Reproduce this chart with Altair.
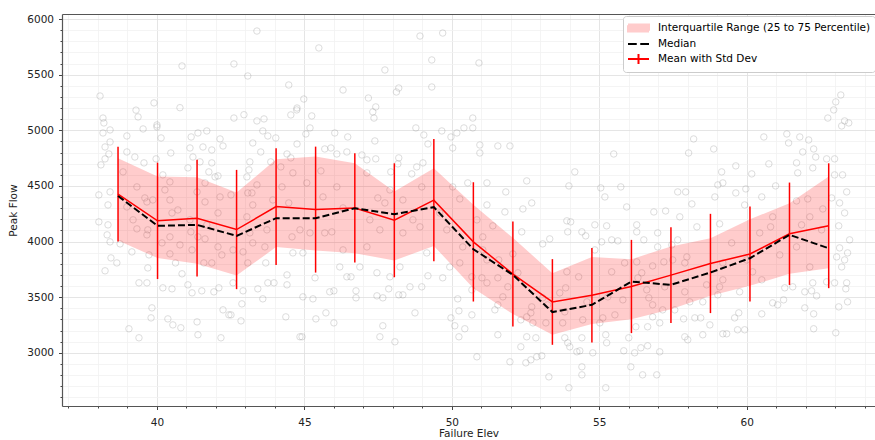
import altair as alt
import pandas as pd

# ---- binned statistics ----
bin_centers = [38.68, 40.02, 41.36, 42.70, 44.04, 45.38, 46.71, 48.05, 49.39, 50.73,
               52.07, 53.41, 54.75, 56.09, 57.43, 58.77, 60.11, 61.45, 62.78]
mean_flow = [4426, 4186, 4210, 4108, 4314, 4287, 4302, 4191, 4372, 3997,
             3708, 3457, 3517, 3596, 3698, 3803, 3888, 4070, 4142]
std_flow = [426, 523, 525, 536, 524, 566, 491, 512, 549, 536,
            472, 385, 424, 419, 431, 446, 427, 460, 561]
median_flow = [4410, 4141, 4150, 4051, 4210, 4210, 4299, 4246, 4309, 3931,
               3700, 3366, 3431, 3640, 3611, 3722, 3850, 4060, 3940]
q25_flow = [4010, 3851, 3800, 3694, 3950, 3919, 3895, 3829, 3961, 3580,
            3348, 3162, 3260, 3302, 3392, 3512, 3602, 3710, 3761]
q75_flow = [4749, 4584, 4578, 4440, 4739, 4764, 4703, 4449, 4659, 4330,
            4033, 3716, 3860, 3842, 3955, 4030, 4200, 4345, 4584]

# ---- raw scatter (Failure Elev, Peak Flow) ----
scatter_points = [
    (43.39,5892),(40.85,5578),(42.61,5596),(43.08,5488),(44.47,5407),(38.07,5308),(39.9,5246),(40.78,5203),
    (39.29,5181),(38.17,5110),(39.36,5120),(42.61,5110),(42.95,5140),(38.2,5066),(40.0,5048),(40.0,5030),
    (43.39,5084),(43.63,5102),(44.54,5138),(44.74,5183),(38.41,5003),(38.17,4976),(39.53,5012),(38.98,4949),
    (38.41,4895),(40.14,4931),(41.16,4940),(41.39,4976),(41.69,4994),(42.14,4922),(42.24,4859),(43.59,4994),
    (43.76,4949),(44.03,4931),(43.25,4886),(38.24,4850),(38.37,4787),(38.24,4743),(38.1,4689),(38.98,4805),
    (39.25,4760),(39.56,4707),(39.97,4743),(40.47,4796),(41.12,4841),(41.56,4850),(41.22,4760),(41.86,4823),
    (41.46,4716),(41.86,4707),(41.05,4662),(40.2,4599),(41.76,4626),(41.97,4581),(42.07,4590),(43.15,4716),
    (43.52,4805),(43.86,4716),(43.12,4644),(43.05,4581),(44.41,4787),(44.54,4752),(44.2,4671),(38.03,4419),
    (38.34,4329),(38.41,4446),(38.85,4626),(39.32,4491),(39.66,4356),(39.86,4374),(40.27,4464),(40.44,4536),
    (41.36,4446),(41.63,4527),(42.14,4401),(42.51,4419),(43.08,4437),(43.22,4437),(43.39,4509),(43.93,4374),
    (44.47,4347),
    (38.03,4177),(38.34,4150),(38.31,4060),(38.41,3997),(38.24,3737),(38.44,3853),(38.64,3808),(38.75,3979),
    (39.15,3907),(39.32,4114),(39.66,4060),(39.73,3880),(39.69,3763),(39.39,3629),(39.66,3629),(39.83,3404),
    (39.8,3314),(39.05,3216),(39.39,3135),(40.37,3305),(40.54,3251),(40.81,3225),(40.2,3584),(40.51,3575),
    (40.17,3988),(40.44,3889),(40.63,3808),(40.85,3710),(41.05,3611),(41.19,3539),(41.36,3278),(41.39,3162),
    (41.52,3557),(41.59,3808),(41.86,3808),(41.63,4024),(41.93,3548),(42.1,3584),(42.24,3386),(42.17,3135),
    (42.44,3341),(42.51,3341),(42.58,3629),(42.85,3287),(42.88,3440),(42.92,3557),(43.42,3575),(43.59,3485),
    (43.76,3629),(43.97,3629),(44.37,3323),(44.41,3700),(44.41,3611),(44.85,3144),(43.08,3808),(43.69,3808),
    (43.25,3988),(42.58,3925),(42.07,3952),(41.15,4087),
    (45.49,5740),(48.92,5847),(49.69,5874),(49.32,5632),(50.92,5605),(47.73,5542),(46.31,5362),(48.12,5344),
    (48.2,5380),(49.32,5389),(47.17,5290),(44.98,5281),(44.75,5200),(47.42,5210),(47.32,5165),(45.25,5129),
    (47.36,5110),(50.71,5110),(48.78,5021),(50.71,5021),(50.41,5021),(50.17,4976),(45.19,5021),(45.05,4967),
    (46.03,4976),(46.47,4940),(47.39,4904),(49.05,4958),(49.66,4994),(49.97,4940),(50.95,4868),(51.56,4859),
    (51.97,4859),(50.95,4796),(50.03,4841),(49.19,4877),(44.75,4877),(45.9,4841),(45.69,4832),(46.1,4787),
    (46.44,4805),(46.95,4778),(47.12,4734),(47.42,4743),(48.2,4752),(48.17,4698),(49.02,4707),(48.64,4608),
    (47.93,4626),(45.56,4635),(54.17,4626),(53.97,4500),(52.54,4545),(51.19,4527),(51.83,4446),(52.71,4347),
    (52.41,4293),(51.8,4266),(50.54,4527),(50.27,4383),
    (44.92,3144),(47.56,3144),(48.07,3099),(47.66,3243),(45.39,3305),(46.0,3269),(45.73,3359),(48.75,3359),
    (49.97,3314),(50.1,3243),(50.24,3144),(50.44,3216),(50.24,3377),(50.68,3341),(50.85,2964),(51.56,3162),
    (51.97,2919),(52.34,3054),(52.51,2910),(52.68,2937),(52.88,2964),(53.05,2973),(53.29,2784),(53.97,2686),
    (52.54,3144),(52.85,3135),(53.83,3135),(53.93,3090),(54.0,3054),(54.24,3009),(45.29,3485),(44.95,3503),
    (45.86,3548),(46.0,3557),(46.75,3557),(46.75,3494),(47.46,3512),(47.66,3494),(47.86,3575),(48.2,3521),
    (48.34,3521),(48.58,3593),(48.98,3593),(49.69,3674),(50.2,3485),(50.68,3566),(51.02,3674),(51.56,3674),
    (51.9,3593),(51.56,3431),(52.34,3296),(52.68,3359),(53.19,3269),(53.83,3368),(46.58,3683),(47.46,3719),
    (49.19,3692),(46.44,3683),(45.36,3674),
    (63.19,5317),(63.02,5255),(62.95,5183),(62.75,5110),(63.32,5084),(63.22,5039),(63.46,5066),(58.2,4922),
    (55.49,4787),(58.03,4796),(58.88,4832),(60.58,4940),(61.36,4967),(61.42,4886),(61.8,4940),(62.1,4913),
    (61.9,4805),(62.27,4832),(62.34,4760),(62.71,4743),(62.98,4743),(59.63,4680),(60.75,4698),(59.15,4626),
    (60.17,4608),(61.73,4617),(62.24,4662),(62.98,4599),(63.25,4599),(63.39,4446),(63.15,4347),(63.32,4257),
    (55.05,4482),(55.19,4401),(55.73,4491),(55.93,4311),(56.85,4266),(57.25,4275),(57.66,4446),(57.93,4446),
    (58.14,4338),(59.02,4509),(59.19,4527),(59.63,4437),(59.97,4473),(59.93,4329),(60.51,4401),(60.98,4500),
    (61.69,4365),(62.07,4383),(62.58,4293),(62.88,4392),
    (55.22,2686),(54.41,2802),(54.41,2874),(56.47,2802),(56.95,2802),(56.07,2874),(54.78,3000),(54.34,3018),
    (55.83,3018),(56.2,3000),(56.41,3045),(56.64,3063),(57.05,3009),(56.0,3135),(55.22,3162),(55.25,3090),
    (57.9,3144),(58.0,3117),(58.51,3162),(59.19,3171),(59.32,3171),(59.69,3207),(59.93,3207),(62.27,3216),
    (63.02,3180),(57.86,3305),(58.24,3314),(58.44,3314),(58.75,3251),(59.59,3314),(59.73,3359),(60.51,3350),
    (61.97,3404),(62.27,3350),(63.12,3413),(63.42,3458),(60.88,3449),(61.05,3431),(61.25,3476),(62.37,3512),
    (62.2,3557),(62.71,3638),(63.36,3575),(63.39,3629),(62.98,3629),(63.42,3898),(63.32,3835),(63.15,3943),
    (63.22,3772),(63.49,4015),(63.12,4141),(54.85,4150),(55.25,4141),(56.27,4150),(54.41,4087),(55.42,4015),
    (56.51,4015),(56.98,4078),(57.19,3817),(57.66,4015),(58.31,4132),(59.08,4159),(59.49,3988),(60.81,4132),
    (61.86,4150),(55.42,3728),(55.86,3808),(56.44,3719),(56.81,3431),(57.05,3269),(56.64,3234),(56.24,3234),
    (55.53,3341),(55.02,3269),(54.41,3135),(54.44,3296),(58.51,3458),(58.07,3458),(57.56,3386),(59.02,3521),
    (59.76,3548),(61.29,3584),(61.56,3593),(61.97,3548),(60.51,3656),(60.2,3728),(59.19,3656),(58.64,3611),
    (57.9,3548),(57.22,3593),(56.68,3494),(55.8,3476),
    (53.9,4186),(54.03,4177),(56.27,4087),(52.37,4087),(51.39,4141),(53.93,4087),(54.54,4051),(53.08,3979),
    (53.32,4024),(55.63,4006),(56.98,3952),(57.46,3970),(57.49,3835),(56.81,3781),(56.27,3817),(55.08,3997),
    (54.85,3925),(54.3,3683),(53.9,3728),(53.86,3584),(53.66,3539),(53.25,3431),(53.08,3494),(52.71,3413),
    (52.54,3323),(52.75,3269),(51.73,3503),(51.46,3386),(51.19,3629),(52.24,3719),(51.59,3835),(51.05,3925),
    (52.07,3889),(54.58,3458),(55.12,3314),(56.81,3323),(57.15,3386),(56.61,3566),(56.31,3674),(55.29,3503),
    (53.76,3269),(51.19,4329),
    (38.98,4311),(39.19,4195),(39.59,4392),(39.69,4105),(40.44,4374),(40.51,4257),(40.71,4284),(40.44,4042),
    (40.78,3970),(41.12,4195),(41.19,3925),(41.39,4042),(41.69,4150),(41.63,4356),(42.2,3880),(42.07,4257),
    (42.92,3907),(43.15,4078),(43.05,4222),(43.25,4329),(43.66,3952),(43.73,4105),(44.58,4042),(44.61,3898),
    (44.61,4617),(44.24,4491),
    (45.08,4527),(45.63,4401),(46.1,4491),(46.31,4302),(44.85,4105),(45.19,4078),(45.69,4078),(45.93,4087),
    (46.31,3925),(44.95,3898),(47.12,4617),(47.49,4392),(47.73,4347),(47.22,4195),(47.56,4105),(47.12,3952),
    (47.9,4464),(48.34,4374),(48.34,4078),(48.68,4195),(48.92,4132),(48.98,4491),(48.81,4671),(49.15,3898),
    (49.59,4257),(49.83,4105),(50.03,4491),(50.37,3952),(50.27,3808),(50.85,4195),(51.05,4042),(51.19,3835),
    (50.68,3683),(49.93,3772),(48.24,3772),(47.9,3683),(46.88,3772),(46.2,3772),
    (57.97,3862),(57.9,3808),(59.19,3808),(59.08,3593),(60.44,4078),(60.0,3835),(60.88,4222),(61.12,3880),
    (62.14,4222),(61.69,3952),(62.14,3772),(62.24,3629),(62.54,4105),(63.05,3862),(58.92,4401),(57.73,4222),
    (61.69,4707),
]

series_labels = ["Interquartile Range (25 to 75 Percentile)", "Median", "Mean with Std Dev"]
series_colors = ["#ffcccc", "#000000", "#ff0000"]
x_ticks = list(range(37, 65))
y_ticks = list(range(2600, 6001, 100))

# ---- tables ----
stats = pd.DataFrame({"elev": bin_centers, "mean": mean_flow, "std": std_flow,
                      "median": median_flow, "q25": q25_flow, "q75": q75_flow})
stats["lo"] = stats["mean"] - stats["std"]
stats["hi"] = stats["mean"] + stats["std"]
pts = pd.DataFrame(scatter_points, columns=["elev", "flow"])
legend_df = pd.DataFrame({"series": series_labels, "elev": [50.0] * 3, "flow": [0.0] * 3})

x_scale = alt.Scale(domain=[36.78, 64.35], nice=False, zero=False)
y_scale = alt.Scale(domain=[2522, 6045], nice=False, zero=False)

x_axis = alt.Axis(
    title="Failure Elev", orient="bottom", values=x_ticks, format="d",
    labelExpr="datum.value % 5 == 0 ? datum.label : ''",
    labelOverlap=False, labelFlush=False,
    domain=True, domainColor="#555555", domainWidth=1.2,
    tickSize={"condition": {"test": "datum.value % 5 == 0", "value": 3.5}, "value": 2},
    gridColor={"condition": {"test": "datum.value % 5 == 0", "value": "#dedede"}, "value": "#f1f1f1"},
    tickColor="#444444", labelPadding=8, titlePadding=0,
)
y_axis = alt.Axis(
    title="Peak Flow", values=y_ticks, format="d",
    labelExpr="datum.value % 500 == 0 ? datum.label : ''",
    labelOverlap=False, labelFlush=False,
    domain=True, domainColor="#555555", domainWidth=1.2,
    tickSize={"condition": {"test": "datum.value % 500 == 0", "value": 3.5}, "value": 2},
    gridColor={"condition": {"test": "datum.value % 500 == 0", "value": "#dedede"}, "value": "#f1f1f1"},
    tickColor="#444444", labelPadding=5, titlePadding=8,
)
top_axis = alt.Axis(orient="top", values=[], labels=False, ticks=False, grid=False,
                    domain=True, domainColor="#555555", domainWidth=1.2, title=None)

X_main = alt.X("elev:Q", scale=x_scale, axis=x_axis)
X_plain = alt.X("elev:Q", scale=x_scale, axis=None)

scatter = alt.Chart(pts).mark_point(
    shape="circle", filled=False, size=42, color="#808080", opacity=0.27, strokeWidth=1, clip=True
).encode(x=X_main, y=alt.Y("flow:Q", scale=y_scale, axis=y_axis))

band = alt.Chart(stats).mark_area(color="#ff0000", opacity=0.2, clip=True).encode(
    x=X_plain, y=alt.Y("q25:Q", scale=y_scale, axis=y_axis), y2="q75:Q")

mean_line = alt.Chart(stats).mark_line(color="#ff0000", strokeWidth=1.5, clip=True).encode(
    x=X_plain, y=alt.Y("mean:Q", scale=y_scale, axis=y_axis))

err_bars = alt.Chart(stats).mark_rule(color="#ff0000", strokeWidth=1.5, clip=True).encode(
    x=X_plain, y=alt.Y("lo:Q", scale=y_scale, axis=y_axis), y2="hi:Q")

median_line = alt.Chart(stats).mark_line(color="#000000", strokeWidth=2, strokeDash=[7, 3], clip=True).encode(
    x=X_plain, y=alt.Y("median:Q", scale=y_scale, axis=y_axis))

legend_shapes = [
    "M-1,-0.5H2V-0.25H-1V0H2V0.25H-1V0.5H2",
    "M-1,0H0.25M0.75,0H2",
    "M-1,0H2M0.5,-0.7V0.7",
]
legend_layer = alt.Chart(legend_df).mark_point(filled=False, opacity=1, strokeWidth=2, clip=True).encode(
    x=alt.X("elev:Q", scale=x_scale, axis=top_axis),
    y=alt.Y("flow:Q", scale=y_scale, axis=y_axis),
    color=alt.Color("series:N", scale=alt.Scale(domain=series_labels, range=series_colors),
                    legend=alt.Legend(title=None, orient="none", legendX=561, legendY=2,
                                      symbolSize=196, symbolStrokeWidth=2, labelOffset=15,
                                      labelFontSize=10.5, labelLimit=400, padding=4, rowPadding=0,
                                      fillColor="white", strokeColor="#cccccc", cornerRadius=3)),
    shape=alt.Shape("series:N", scale=alt.Scale(domain=series_labels, range=legend_shapes)),
)

chart = alt.layer(scatter, band, mean_line, err_bars, median_line, legend_layer).resolve_axis(
    x="independent"
).properties(
    width=813, height=392,
    autosize=alt.AutoSizeParams(type="none"),
    padding={"left": 62, "top": 14, "right": 0, "bottom": 34},
).configure(font="DejaVu Sans").configure_view(
    stroke=None
).configure_axis(
    labelFontSize=10.5, titleFontSize=10.5, titleFontWeight="normal", labelColor="#222222",
    titleColor="#222222", gridWidth=0.8, tickWidth=1,
)

chart.save("out.html", embed_options={"renderer": "svg", "actions": False})
